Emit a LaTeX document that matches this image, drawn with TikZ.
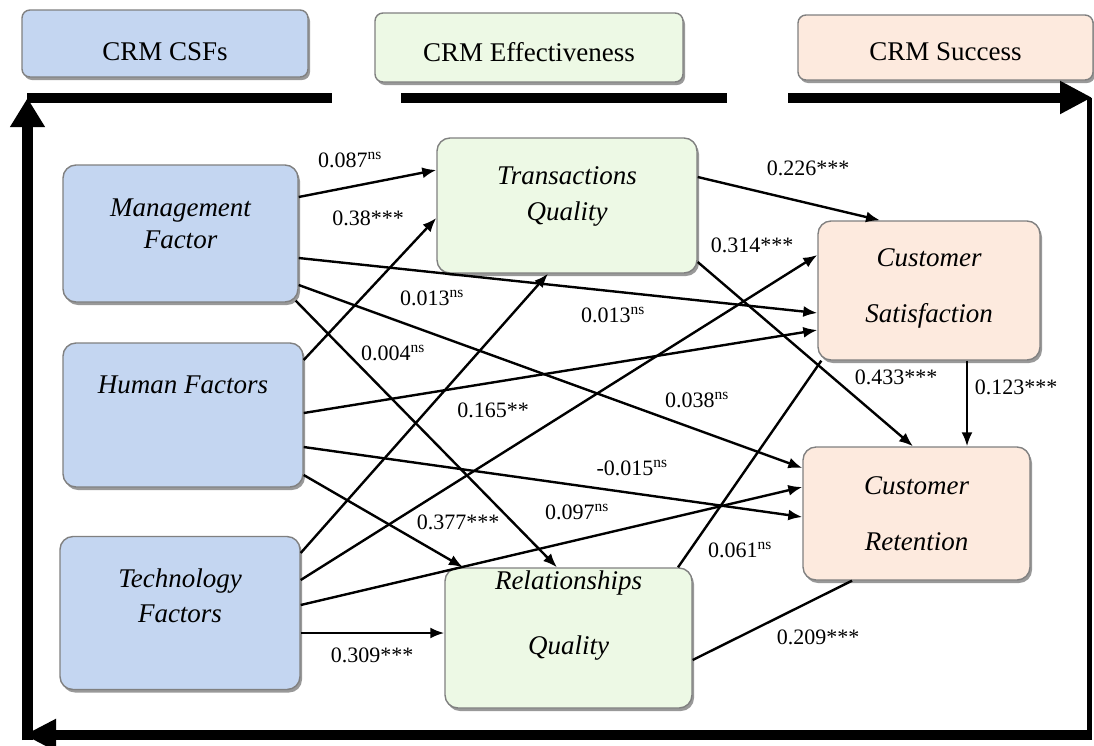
\documentclass[tikz,border=0pt]{standalone}
\usepackage{fontspec}
\setmainfont{Liberation Serif}
\usetikzlibrary{arrows.meta,shadows}
\definecolor{csfblue}{RGB}{196,214,241}
\definecolor{effgreen}{RGB}{237,249,229}
\definecolor{succpeach}{RGB}{253,234,222}
\newcommand{\nsig}{\textsuperscript{ns}}

\begin{document}
\begin{tikzpicture}[x=1pt,y=-1pt,
        box/.style={rectangle, rounded corners=13pt, draw=black!50, line width=1.4pt, drop shadow={shadow xshift=2pt, shadow yshift=-3pt, fill=black!80}},
        head/.style={box, rounded corners=8pt},
        headtext/.style={font=\fontsize{27}{32}\selectfont},
        boxtext/.style={align=center, font=\fontsize{27}{32}\selectfont\itshape},
        coef/.style={font=\fontsize{22}{26}\selectfont, inner sep=1pt},
        link/.style={line width=2.4pt, -{Latex[length=14pt,width=11pt]}},
        plainlink/.style={line width=2.4pt},
        band/.style={line width=10pt}]
        \useasboundingbox (0,0) rectangle (1094,745);

        \node[head, fill=csfblue, minimum width=286, minimum height=67, label={[headtext,yshift=-8]center:CRM CSFs}] (csfs) at (165,43.5) {};
        \node[head, fill=effgreen, minimum width=308, minimum height=69, label={[headtext,yshift=-5]center:CRM Effectiveness}] (eff) at (529,47.5) {};
        \node[head, fill=succpeach, minimum width=295, minimum height=65, label={[headtext,yshift=-4]center:CRM Success}] (succ) at (945.5,47.5) {};

        \draw[band] (27,97.5) -- (332,97.5);
        \draw[band] (401,97.5) -- (727,97.5);
        \draw[band, -{Triangle[length=32pt,width=31pt]}] (788,97.5) -- (1092,97.5);
        \draw[line width=4.5pt] (1089.5,98) -- (1089.5,740);
        \draw[band, -{Triangle[length=32pt,width=30pt]}] (1092,735) -- (24,735);
        \draw[band, line width=11pt, -{Triangle[length=29pt,width=33pt]}] (27.5,740) -- (27.5,98);

        \node[box, fill=csfblue, minimum width=235, minimum height=137, label={[boxtext,yshift=10]center:{Management\\Factor}}] (mgmt) at (180.5,233.5) {};
        \node[box, fill=csfblue, minimum width=240, minimum height=144, label={[boxtext,yshift=30]center:Human Factors}] (human) at (183,415) {};
        \node[box, fill=csfblue, minimum width=240, minimum height=153, label={[boxtext,yshift=17.5]center:{Technology\\[2.6pt]Factors}}] (tech) at (180,613) {};
        \node[box, fill=effgreen, minimum width=260, minimum height=135, label={[boxtext,yshift=9]center:{Transactions\\[4.6pt]Quality}}] (trq) at (567,205.5) {};
        \node[box, fill=effgreen, minimum width=247, minimum height=140, label={[boxtext,yshift=22.5]center:{Relationships\\[32.6pt]Quality}}] (relq) at (568.5,638) {};
        \node[box, fill=succpeach, minimum width=222, minimum height=139, label={[boxtext,yshift=2]center:{Customer\\[24.6pt]Satisfaction}}] (csat) at (929,290.5) {};
        \node[box, fill=succpeach, minimum width=227, minimum height=133, label={[boxtext]center:{Customer\\[23.6pt]Retention}}] (cret) at (916.5,513.5) {};

        \draw[link] ([yshift=36.5]mgmt.east) -- ([yshift=35.5]trq.west);
        \draw[link] ([yshift=-24.5]mgmt.east) -- ([yshift=-22.5]csat.west);
        \draw[link] ([yshift=-51.5]mgmt.east) -- ([yshift=45.5]cret.west);
        \draw[link] ([xshift=-3,yshift=2]mgmt.south east) -- ([xshift=-11.5]relq.north);
        \draw[link] ([yshift=55]human.east) -- ([yshift=-12.5]trq.west);
        \draw[link] ([yshift=2]human.east) -- ([yshift=-39.5]csat.west);
        \draw[link] ([yshift=-32]human.east) -- ([yshift=-3.5]cret.west);
        \draw[link] ([yshift=-60]human.east) -- ([xshift=-105.5]relq.north);
        \draw[link] ([yshift=60]tech.east) -- ([xshift=-19]trq.south);
        \draw[link] ([yshift=33]tech.east) -- ([yshift=35.5]csat.west);
        \draw[link] ([yshift=8]tech.east) -- ([yshift=26.5]cret.west);
        \draw[link] ([yshift=-20]tech.east) -- ([yshift=5]relq.west);
        \draw[link] ([yshift=28.5]trq.east) -- ([xshift=-49]csat.north);
        \draw[link] ([yshift=-56.5]trq.east) -- ([xshift=-3.5]cret.north);
        \draw[link] ([xshift=38]csat.south) -- ([xshift=50.5]cret.north);
        \draw[plainlink] ([xshift=109.5]relq.north) -- ([xshift=4]csat.south west);
        \draw[plainlink] ([yshift=-22]relq.east) -- ([xshift=-64.5]cret.south);

        \node[coef] (c1) at (350,160) {0.087\nsig};
        \node[coef] (c2) at (368,218) {0.38***};
        \node[coef] (c3) at (432,298) {0.013\nsig};
        \node[coef] (c4) at (613,315) {0.013\nsig};
        \node[coef] (c5) at (393,353) {0.004\nsig};
        \node[coef] (c6) at (493,410) {0.165**};
        \node[coef] (c7) at (697,400) {0.038\nsig};
        \node[coef] (c8) at (632,468) {-0.015\nsig};
        \node[coef] (c9) at (577,512) {0.097\nsig};
        \node[coef] (c10) at (458,522) {0.377***};
        \node[coef] (c11) at (740,550) {0.061\nsig};
        \node[coef] (c12) at (808,168) {0.226***};
        \node[coef] (c13) at (752,245) {0.314***};
        \node[coef] (c14) at (896,377) {0.433***};
        \node[coef] (c15) at (1016,387) {0.123***};
        \node[coef] (c16) at (818,637) {0.209***};
        \node[coef] (c17) at (372,655) {0.309***};
\end{tikzpicture}
\end{document}
